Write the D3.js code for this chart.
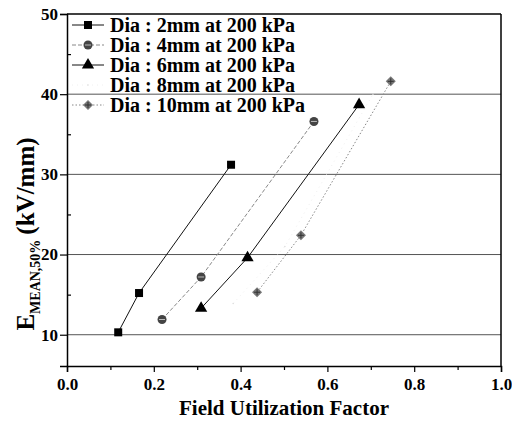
<!DOCTYPE html>
<html>
<head>
<meta charset="utf-8">
<script src="https://cdn.jsdelivr.net/npm/d3@7"></script>
<style>
  body { margin: 0; background: #fff; }
</style>
</head>
<body>
<div id="chart"></div>
<script>
// series data: [field utilization factor, E mean 50% (kV/mm)]
const seriesNames = ['Dia : 2mm at 200 kPa', 'Dia : 4mm at 200 kPa', 'Dia : 6mm at 200 kPa',
                     'Dia : 8mm at 200 kPa', 'Dia : 10mm at 200 kPa'];
const dia2 = [[0.118, 10.3], [0.166, 15.2], [0.378, 31.2]];
const dia4 = [[0.219, 11.9], [0.309, 17.2], [0.569, 36.6]];
const dia6 = [[0.309, 13.3], [0.416, 19.6], [0.673, 38.7]];
const dia8 = [[0.383, 13.9], [0.502, 21.0], [0.705, 40.0]];
const dia10 = [[0.438, 15.3], [0.539, 22.4], [0.746, 41.6]];
const xTicks = [0.0, 0.2, 0.4, 0.6, 0.8, 1.0];
const yTicks = [10, 20, 30, 40, 50];

const FONT = '"Liberation Serif", "Times New Roman", Times, "DejaVu Serif", serif';
const margin = {top: 14, right: 11, bottom: 59, left: 67};
const W = 512, H = 425;
const width = W - margin.left - margin.right;
const height = H - margin.top - margin.bottom;

const styles = [
    {marker: 'square', stroke: '#111', dash: null, fill: '#000'},
    {marker: 'circle', stroke: '#888', dash: '4,2', fill: '#444'},
    {marker: 'triangle', stroke: '#111', dash: null, fill: '#000'},
    {marker: 'none', stroke: '#f0f0f0', dash: '1,4', fill: '#ddd'},
    {marker: 'diamond', stroke: '#888', dash: '1.5,2', fill: '#777'}
];
const allSeries = [dia2, dia4, dia6, dia8, dia10];

const svg = d3.select('#chart').append('svg')
    .attr('width', W).attr('height', H);
const g = svg.append('g').attr('transform', `translate(${margin.left},${margin.top})`);

const x = d3.scaleLinear().domain([0, 1]).range([0, width]);
const y = d3.scaleLinear().domain([6.1, 50]).range([height, 0]);

// horizontal grid lines
g.selectAll('.grid').data(yTicks.filter(d => d < 50)).enter().append('line')
    .attr('x1', 0).attr('x2', width)
    .attr('y1', d => y(d)).attr('y2', d => y(d))
    .attr('stroke', '#555').attr('stroke-width', 1);

// axes
g.append('g').attr('transform', `translate(0,${height})`)
    .call(d3.axisBottom(x).tickValues(xTicks).tickFormat(d3.format('.1f')).tickSize(6).tickPadding(6));
g.append('g').attr('transform', `translate(0,${height})`)
    .call(d3.axisBottom(x).tickValues([0.1, 0.3, 0.5, 0.7, 0.9]).tickFormat('').tickSize(4))
    .select('.domain').remove();
g.append('g')
    .call(d3.axisLeft(y).tickValues(yTicks).tickSize(7).tickPadding(2));
g.append('g')
    .call(d3.axisRight(y).tickValues([15, 25, 35, 45]).tickFormat('').tickSize(4))
    .select('.domain').remove();

g.selectAll('.domain').attr('stroke', '#000').attr('stroke-width', 1.5);
g.selectAll('.tick line').attr('stroke', '#000').attr('stroke-width', 1.2);
g.selectAll('.tick text').attr('fill', '#000')
    .style('font-family', FONT).style('font-weight', 'bold').style('font-size', '17px');

// frame top / right
g.append('line').attr('x1', 0).attr('x2', width).attr('y1', 0).attr('y2', 0)
    .attr('stroke', '#000').attr('stroke-width', 1.5);
g.append('line').attr('x1', width).attr('x2', width).attr('y1', 0).attr('y2', height)
    .attr('stroke', '#000').attr('stroke-width', 1.5);

// axis titles
g.append('text')
    .attr('x', width / 2).attr('y', height + 49)
    .attr('text-anchor', 'middle')
    .style('font-family', FONT).style('font-weight', 'bold')
    .style('font-size', '21px')
    .text('Field Utilization Factor');

const yLabel = svg.append('text')
    .attr('transform', `translate(34,${margin.top + 220}) rotate(-90)`)
    .attr('text-anchor', 'middle')
    .style('font-family', FONT).style('font-weight', 'bold')
    .style('font-size', '25px');
yLabel.append('tspan').text('E');
yLabel.append('tspan').attr('dy', 6).style('font-size', '14px').text('MEAN,50%');
yLabel.append('tspan').attr('dy', -6).attr('dx', 5).text('(kV/mm)');

function drawMarker(sel, type, fill) {
    if (type === 'square') {
        sel.append('rect').attr('x', -4).attr('y', -4).attr('width', 8).attr('height', 8).attr('fill', fill);
    } else if (type === 'circle') {
        sel.append('circle').attr('r', 4.5).attr('fill', fill);
        sel.append('line').attr('x1', -3).attr('x2', 3).attr('stroke', '#bbb').attr('stroke-width', 1);
    } else if (type === 'triangle') {
        sel.append('path').attr('d', d3.symbol(d3.symbolTriangle, 65)()).attr('fill', fill);
    } else if (type === 'diamond') {
        sel.append('path').attr('d', 'M0,-5L5,0L0,5L-5,0Z').attr('fill', fill);
        sel.append('path').attr('d', 'M-3,0H3M0,-3V3').attr('stroke', '#333').attr('stroke-width', 1);
    } else {
        sel.append('circle').attr('r', 0.8).attr('fill', fill);
    }
}

const line = d3.line().x(d => x(d[0])).y(d => y(d[1]));

allSeries.forEach((data, i) => {
    const s = styles[i];
    g.append('path').datum(data)
        .attr('d', line)
        .attr('fill', 'none')
        .attr('stroke', s.stroke)
        .attr('stroke-width', 1)
        .attr('stroke-dasharray', s.dash);
    g.selectAll(null).data(data).enter().append('g')
        .attr('transform', d => `translate(${x(d[0])},${y(d[1])})`)
        .each(function() { drawMarker(d3.select(this), s.marker, s.fill); });
});

// legend
const legend = g.append('g').attr('transform', 'translate(5,11)');
seriesNames.forEach((name, i) => {
    const s = styles[i];
    const row = legend.append('g').attr('transform', `translate(0,${i * 20})`);
    row.append('line').attr('x1', 0).attr('x2', 32)
        .attr('stroke', s.stroke).attr('stroke-width', 1).attr('stroke-dasharray', s.dash);
    const m = row.append('g').attr('transform', 'translate(16,0)');
    drawMarker(m, s.marker, s.fill);
    row.append('text').attr('x', 38).attr('y', 7)
        .style('font-family', FONT).style('font-weight', 'bold')
        .style('font-size', '20px').text(name);
});
</script>
</body>
</html>
